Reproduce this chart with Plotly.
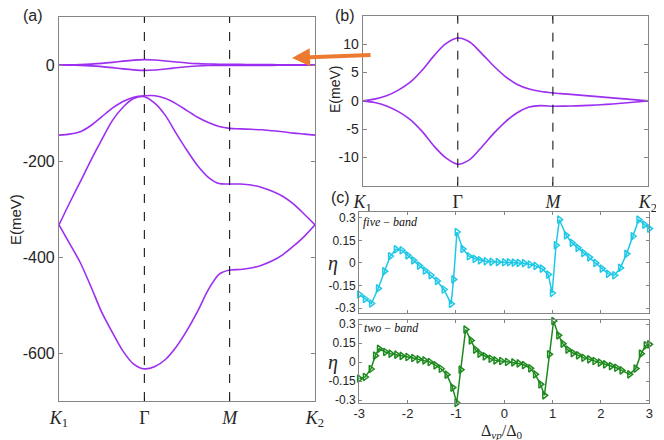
import plotly.graph_objects as go

# ---- data ----
# panel (a)/(b): k path K1 -> Gamma -> M -> K2 (0..3), step 0.125
k_path = [0, 0.125, 0.25, 0.375, 0.5, 0.625, 0.75, 0.875, 1.0, 1.125, 1.25, 1.375, 1.5,
          1.625, 1.75, 1.875, 2.0, 2.125, 2.25, 2.375, 2.5, 2.625, 2.75, 2.875, 3.0]
k_labels = ["<i>K</i><sub>1</sub>", "Γ", "<i>M</i>", "<i>K</i><sub>2</sub>"]

band_up = [0, 0.3, 0.9, 1.9, 3.3, 5.4, 8.0, 10.1, 11.1, 10.4, 8.4, 6.2, 4.3,
           2.9, 2.1, 1.65, 1.4, 1.23, 1.05, 0.88, 0.7, 0.53, 0.35, 0.18, 0]
band_dn = [0, -0.3, -0.9, -1.9, -3.3, -5.4, -8.0, -10.1, -11.2, -10.4, -8.2, -5.8, -3.7,
           -2.1, -1.1, -0.85, -0.95, -0.93, -0.88, -0.8, -0.7, -0.55, -0.38, -0.2, 0]
band_3 = [-146, -144, -139, -126, -108, -90, -76, -67, -64, -64, -70, -81, -95,
          -109, -120, -128, -132, -133, -134, -135, -137, -139, -142, -144, -146]
band_4 = [-333, -287, -243, -198, -156, -116, -88, -70, -66, -80, -106, -143, -178,
          -210, -234, -247, -248, -248, -250, -255, -263, -274, -290, -311, -333]
band_5 = [-333, -372, -412, -462, -515, -557, -596, -623, -633, -628, -613, -587, -553,
          -513, -468, -436, -427, -426, -423, -417, -408, -395, -377, -357, -333]

# panel (c): eta vs Delta_vp/Delta_0
five_x = [-3.0, -2.88, -2.75, -2.61, -2.48, -2.36, -2.24, -2.12, -2.0, -1.88, -1.76, -1.64,
          -1.52, -1.39, -1.25, -1.1, -1.05, -0.98, -0.86, -0.73, -0.61, -0.5, -0.38, -0.26,
          -0.13, 0.0, 0.1, 0.2, 0.3, 0.41, 0.53, 0.65, 0.78, 0.91, 0.99, 1.07, 1.14, 1.28,
          1.4, 1.52, 1.64, 1.76, 1.89, 2.02, 2.15, 2.28, 2.4, 2.53, 2.66, 2.78, 2.9, 3.0]
five_y = [-0.21, -0.24, -0.27, -0.17, -0.056, 0.044, 0.09, 0.084, 0.05, 0.017, -0.018, -0.051,
          -0.082, -0.12, -0.177, -0.272, -0.11, 0.205, 0.093, 0.044, 0.027, 0.017, 0.011, 0.007,
          0.005, 0.004, 0.004, 0.002, 0.0, -0.002, -0.011, -0.02, -0.038, -0.078, -0.2, 0.117,
          0.287, 0.183, 0.133, 0.1, 0.066, 0.037, 0.0, -0.038, -0.073, -0.082, -0.033, 0.06,
          0.177, 0.287, 0.254, 0.228]
two_x = [-3.0, -2.88, -2.76, -2.67, -2.59, -2.46, -2.35, -2.23, -2.12, -2.0, -1.88, -1.77,
         -1.65, -1.54, -1.42, -1.31, -1.19, -1.07, -0.985, -0.9, -0.8, -0.69, -0.6, -0.51,
         -0.4, -0.28, -0.18, -0.06, 0.06, 0.19, 0.3, 0.41, 0.54, 0.64, 0.75, 0.83, 0.93,
         1.02, 1.12, 1.21, 1.31, 1.42, 1.53, 1.64, 1.76, 1.87, 1.98, 2.09, 2.21, 2.32, 2.43,
         2.59, 2.72, 2.83, 2.93, 3.0]
two_y = [-0.131, -0.118, -0.055, 0.05, 0.104, 0.079, 0.066, 0.058, 0.048, 0.04, 0.032, 0.021,
         0.013, 0.0, -0.026, -0.053, -0.1, -0.202, -0.323, -0.06, 0.256, 0.171, 0.098, 0.066,
         0.045, 0.026, 0.013, 0.008, 0.0, -0.003, -0.011, -0.024, -0.05, -0.097, -0.176, -0.263,
         0.061, 0.324, 0.211, 0.145, 0.098, 0.071, 0.053, 0.034, 0.021, 0.008, -0.005, -0.018,
         -0.032, -0.045, -0.066, -0.097, -0.052, 0.066, 0.132, 0.14]

a_yticks = [0, -200, -400, -600]
b_yticks = [10, 5, 0, -5, -10]
c_yticks = [0.3, 0.15, 0, -0.15, -0.3]
c_xticks = [-3, -2, -1, 0, 1, 2, 3]

PURPLE = "#9d2ff0"
CYAN = "#1ec8e6"
GREEN = "#1d8a1d"
FRAME = "#858585"
INK = "#262626"
SANS = "Arial, Liberation Sans, sans-serif"
SERIF = "Liberation Serif, DejaVu Serif, serif"

# the page puts the figure 8px in from the top-left corner of the window
W, H, OFF = 656, 432, 8


def px(x):
    return (x - OFF) / W


def py(y):
    return 1 - (y - OFF) / H


fig = go.Figure()

band_line = dict(color=PURPLE, width=1.6, shape="spline", smoothing=0.8)
for b in [band_up, band_dn, band_3, band_4, band_5]:
    fig.add_trace(go.Scatter(x=k_path, y=b, mode="lines", line=band_line,
                             xaxis="x", yaxis="y", showlegend=False))
for b in [band_up, band_dn]:
    fig.add_trace(go.Scatter(x=k_path, y=b, mode="lines", line=band_line,
                             xaxis="x2", yaxis="y2", showlegend=False))

fig.add_trace(go.Scatter(x=five_x, y=five_y, mode="lines+markers", xaxis="x3", yaxis="y3", showlegend=False,
                         line=dict(color=CYAN, width=1.5), cliponaxis=False,
                         marker=dict(symbol="triangle-right-open", size=6.5, color=CYAN, line=dict(width=1.5, color=CYAN))))
fig.add_trace(go.Scatter(x=two_x, y=two_y, mode="lines+markers", xaxis="x4", yaxis="y4", showlegend=False,
                         line=dict(color=GREEN, width=1.5), cliponaxis=False,
                         marker=dict(symbol="triangle-right-open", size=6.5, color=GREEN, line=dict(width=1.5, color=GREEN))))


def frame(**kw):
    d = dict(showline=True, linecolor=FRAME, linewidth=1.2, mirror="ticks", ticks="inside", ticklen=4,
             tickcolor=FRAME, tickwidth=1, showgrid=False, zeroline=False, automargin=False,
             tickfont=dict(family=SANS, size=14, color=INK))
    d.update(kw)
    return d


kfont = dict(family=SERIF, size=18, color=INK)
cfont = dict(family=SANS, size=12, color=INK)
fig.update_layout(
    template="none",
    width=W, height=H, margin=dict(l=0, r=0, t=0, b=0, autoexpand=False),
    paper_bgcolor="white", plot_bgcolor="white",
    xaxis=frame(domain=[px(59), px(315)], range=[0, 3], anchor="y", tickvals=[0, 1, 2, 3], ticktext=k_labels, tickfont=kfont),
    yaxis=frame(domain=[py(401), py(17)], range=[-700, 100], anchor="x", tickvals=a_yticks,
                ticktext=[str(v) for v in a_yticks], tickfont=dict(family=SANS, size=16, color=INK)),
    xaxis2=frame(domain=[px(362.7), px(648)], range=[0, 3], anchor="y2", tickvals=[0, 1, 2, 3], ticktext=k_labels, tickfont=kfont),
    yaxis2=frame(domain=[py(185.7), py(16)], range=[-15, 15], anchor="x2", tickvals=b_yticks, ticktext=[str(v) for v in b_yticks]),
    xaxis3=frame(domain=[px(359.3), px(649.3)], range=[-3, 3], anchor="y3", tickvals=c_xticks, showticklabels=False, ticklen=3),
    yaxis3=frame(domain=[py(313.3), py(211.7)], range=[-0.335, 0.34], anchor="x3", tickvals=c_yticks, ticklen=3,
                 ticktext=[str(v) for v in c_yticks], tickfont=cfont),
    xaxis4=frame(domain=[px(359.3), px(649.3)], range=[-3, 3], anchor="y4", tickvals=c_xticks, ticklen=3,
                 ticklabelstandoff=-2, ticktext=[str(v) for v in c_xticks], tickfont=dict(family=SANS, size=13, color=INK)),
    yaxis4=frame(domain=[py(403.3), py(320)], range=[-0.326, 0.332], anchor="x4", tickvals=c_yticks, ticklen=3,
                 ticktext=[str(v) for v in c_yticks], tickfont=cfont),
)

# dashed lines at Gamma and M
for xr, yr in [("x", "y domain"), ("x2", "y2 domain")]:
    for xv in [1, 2]:
        fig.add_shape(type="line", xref=xr, yref=yr, x0=xv, x1=xv, y0=0, y1=1,
                      line=dict(color="black", width=1, dash="dash"))

txt = dict(family=SANS, size=16, color=INK)
ann = [
    dict(text="(a)", x=px(33), y=py(16), font=txt),
    dict(text="(b)", x=px(345), y=py(16), font=txt),
    dict(text="(c)", x=px(341), y=py(197), font=txt),
    dict(text="E(meV)", x=px(16), y=py(220), textangle=-90, font=dict(family=SANS, size=15, color=INK)),
    dict(text="E(meV)", x=px(335), y=py(90), textangle=-90, font=dict(family=SANS, size=14, color=INK)),
    dict(text="<i>η</i>", x=px(333), y=py(263), font=dict(family=SERIF, size=20, color=INK)),
    dict(text="<i>η</i>", x=px(333), y=py(362), font=dict(family=SERIF, size=20, color=INK)),
    dict(text="<i>five</i> − <i>band</i>", x=px(361), y=py(222), xanchor="left", font=dict(family=SERIF, size=12, color="#111")),
    dict(text="<i>two</i> − <i>band</i>", x=px(362), y=py(328), xanchor="left", font=dict(family=SERIF, size=12, color="#111")),
    dict(text="Δ<sub><i>vp</i></sub>/Δ<sub>0</sub>", x=px(502), y=py(431), font=dict(family=SERIF, size=16, color=INK)),
]
for a in ann:
    a.setdefault("xanchor", "center")
    fig.add_annotation(xref="paper", yref="paper", showarrow=False, yanchor="middle", **a)

# orange arrow pointing from (b) to the near-zero bands of (a)
fig.add_annotation(xref="paper", yref="paper", x=px(292), y=py(58), ax=80, ay=-3, text="",
                   showarrow=True, arrowhead=2, arrowsize=0.9, arrowwidth=4, arrowcolor="#ec7a30", standoff=0)

fig.write_html("out.html")
